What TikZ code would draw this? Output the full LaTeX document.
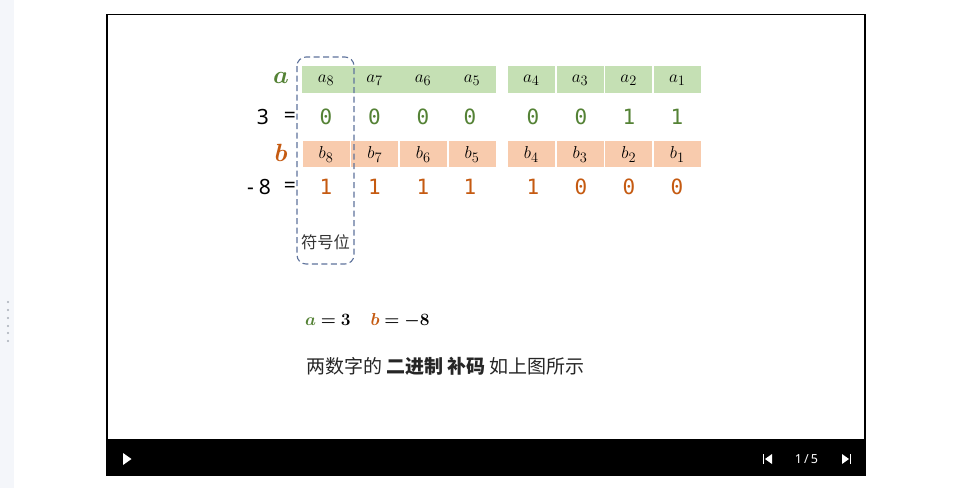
\documentclass[tikz,border=0pt]{standalone}
\usepackage{bm}
\usepackage{fontspec}
\setmainfont{Noto Sans}
\newfontfamily\cjk{Noto Sans CJK SC}
\newfontfamily\monof{DejaVu Sans Mono}
\definecolor{gbox}{HTML}{C5E0B4}
\definecolor{gtxt}{HTML}{548235}
\definecolor{obox}{HTML}{F8CBAD}
\definecolor{otxt}{HTML}{C55A11}
\definecolor{dashc}{HTML}{5F739C}
\definecolor{side}{HTML}{F4F6FA}
\definecolor{dotc}{HTML}{A8AEB8}
\tikzset{
  cellg/.style={fill=gbox, draw=none, minimum width=47pt, minimum height=27pt, inner sep=0pt},
  cello/.style={fill=obox, draw=none, minimum width=47pt, minimum height=26pt, inner sep=0pt},
  lab/.style={font=\fontsize{19}{21}\selectfont, inner sep=0pt},
  vg/.style={font=\fontsize{21}{24}\monof, text=gtxt, inner sep=0pt},
  vo/.style={font=\fontsize{21}{24}\monof, text=otxt, inner sep=0pt},
  lhs/.style={font=\fontsize{21}{24}\selectfont, inner sep=0pt, anchor=east},
  big/.style={font=\fontsize{26}{28}\selectfont, inner sep=0pt},
  ctrl/.style={fill=white, draw=none}
}
\begin{document}
\begin{tikzpicture}[x=1pt,y=-1pt]
\useasboundingbox (0,0) rectangle (960,488);
\fill[white] (0,0) rectangle (960,488);
% sidebar
\fill[side] (0,0) rectangle (14,488);
\foreach \yy in {302,310,318,326,333,341} {\fill[dotc] (8,\yy) circle (1.1);}
% frame
\draw[black, line width=1.4pt] (107,14.5) rectangle (865,440);
\fill[black] (106.3,440) rectangle (865.7,476);
% controls
\fill[ctrl] (123,453) -- (131.5,459) -- (123,465) -- cycle;
\fill[ctrl] (762.5,454) rectangle (764.3,464);
\fill[ctrl] (772,454) -- (765,459) -- (772,464) -- cycle;
\node[text=white, font=\fontsize{12.5}{14}\selectfont, inner sep=0pt] (pg) at (806.5,459) {1\,/\,5};
\fill[ctrl] (842,454) -- (849,459) -- (842,464) -- cycle;
\fill[ctrl] (849.5,454) rectangle (851.3,464);
% a row
\fill[gbox] (302,66) rectangle (496,93);
\foreach \ii/\xx in {8/326,7/374.5,6/423,5/472} {\node[lab] (la\ii) at (\xx,80) {$a_{\ii}$};}
\foreach \ii/\xx in {4/531.3,3/580,2/628.7,1/677.3} {\node[cellg] (ca\ii) at (\xx,79.5) {};}
\foreach \ii/\xx in {4/531.3,3/580,2/628.7,1/677.3} {\node[lab] (la\ii) at (\xx,80) {$a_{\ii}$};}
% b row
\foreach \ii/\xx in {8/326,7/374.7,6/423.3,5/472,4/531.3,3/580,2/628.7,1/677.3} {
  \node[cello] (cb\ii) at (\xx,154) {};
  \node[lab] (lb\ii) at (\xx,154.5) {$b_{\ii}$};
}
% values
\foreach \val/\xx/\kk in {0/326/1,0/374.5/2,0/423/3,0/470/4,0/533/5,0/581/6,1/629/7,1/677/8}
  {\node[vg] (va\kk) at (\xx,116.5) {\val};}
\foreach \val/\xx/\kk in {1/326/1,1/374.5/2,1/423/3,1/470/4,1/533/5,0/581/6,0/629/7,0/677/8}
  {\node[vo] (vb\kk) at (\xx,186.5) {\val};}
% left labels
\node[big, text=gtxt] (na) at (281,78) {$\bm{a}$};
\node[big, text=otxt] (nb) at (281,153) {$\bm{b}$};
\node[lhs] (n3) at (269,116.5) {3};
\node[lhs] (n8) at (271,186.5) {-\hspace{5pt}8};
\node[lhs] (e3) at (296,117) {=};
\node[lhs] (e8) at (296,187) {=};
% sign bit box
\draw[dashc, line width=1.1pt, dash pattern=on 6pt off 3.5pt, rounded corners=9pt] (297,57) rectangle (354,264);
\node[font=\fontsize{16.3}{18}\cjk, text=black!80, inner sep=0pt] (sgn) at (325.5,242) {符号位};
% bottom texts
\node[anchor=west, font=\fontsize{17.7}{20}\selectfont, inner sep=0pt] (eq) at (305,321)
  {$\textcolor{gtxt}{\bm{a}}\bm{=3}\hspace{20pt}\textcolor{otxt}{\bm{b}}\bm{=-8}$};
\node[anchor=west, font=\fontsize{19}{22}\cjk, text=black!85, inner sep=0pt] (desc) at (306,366)
  {两数字的 \textbf{二进制} \textbf{补码} 如上图所示};
\end{tikzpicture}
\end{document}
